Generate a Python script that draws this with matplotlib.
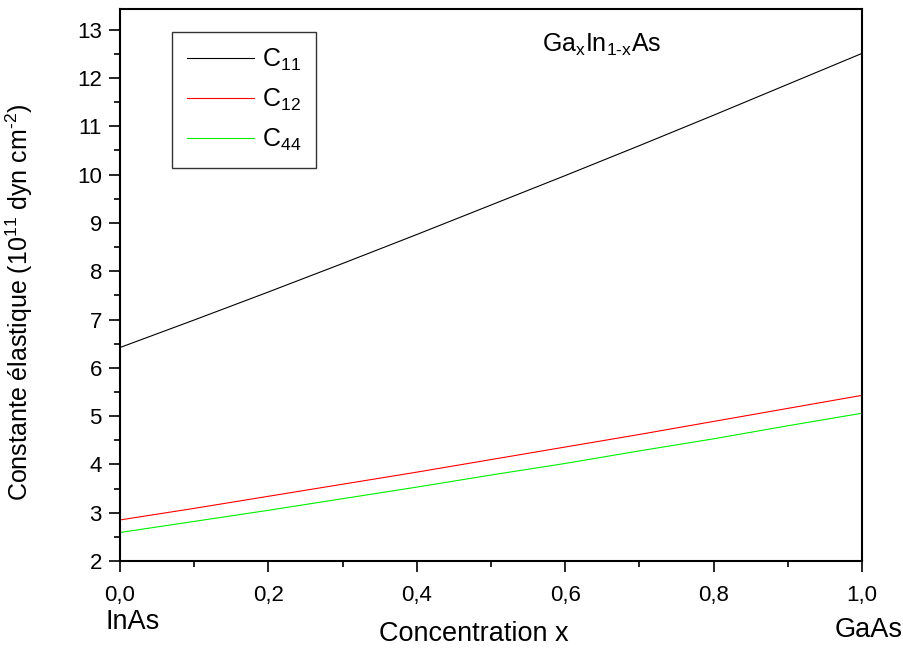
import numpy as np
import matplotlib.pyplot as plt
from matplotlib.ticker import MultipleLocator, FuncFormatter

plt.rcParams['font.family'] = ['Liberation Sans', 'DejaVu Sans']
plt.rcParams['mathtext.fontset'] = 'custom'
plt.rcParams['mathtext.rm'] = 'Liberation Sans'
plt.rcParams['mathtext.it'] = 'Liberation Sans'

# Concentration x and elastic constants
x = [0.0, 0.1, 0.2, 0.3, 0.4, 0.5, 0.6, 0.7, 0.8, 0.9, 1.0]
c11 = [6.42, 6.99, 7.57, 8.16, 8.76, 9.37, 9.98, 10.60, 11.23, 11.87, 12.51]
c12 = [2.85, 3.09, 3.34, 3.59, 3.84, 4.10, 4.36, 4.62, 4.89, 5.16, 5.43]
c44 = [2.59, 2.82, 3.05, 3.29, 3.53, 3.78, 4.02, 4.28, 4.53, 4.80, 5.06]

fig = plt.figure(figsize=(9.04, 6.5), dpi=100)
ax = fig.add_axes([0.1327, 0.1369, 0.8208, 0.8493])

ax.plot(x, c11, color='black', lw=0.8, label=r'C$_{11}$')
ax.plot(x, c12, color='#ff0000', lw=0.8, label=r'C$_{12}$')
ax.plot(x, c44, color='#00ee00', lw=0.8, label=r'C$_{44}$')

ax.set_xlim(0, 1)
ax.set_ylim(2, 13.43)
ax.xaxis.set_major_locator(MultipleLocator(0.2))
ax.xaxis.set_minor_locator(MultipleLocator(0.1))
ax.yaxis.set_major_locator(MultipleLocator(1))
ax.yaxis.set_minor_locator(MultipleLocator(0.5))
ax.xaxis.set_major_formatter(FuncFormatter(lambda v, p: f'{v:.1f}'.replace('.', ',')))
ax.tick_params(which='major', direction='out', length=8, width=1.2, labelsize=16)
ax.tick_params(axis='x', which='major', pad=9)
ax.tick_params(axis='y', which='major', pad=5)
ax.tick_params(which='minor', direction='out', length=4, width=1.2)
ax.tick_params(top=False, right=False)
for s in ax.spines.values():
    s.set_linewidth(1.5)

ax.set_ylabel(r'Constante élastique (10$^{11}$ dyn cm$^{\text{-}2}$)', fontsize=18)
ax.yaxis.set_label_coords(-0.114, 0.468)

leg = ax.legend(loc='upper left', bbox_to_anchor=(0.070, 0.958), borderaxespad=0,
                fontsize=18, frameon=True, fancybox=False, edgecolor='black',
                handlelength=2.7, borderpad=0.6, labelspacing=0.55, handletextpad=0.3)
leg.get_frame().set_linewidth(1.0)

ax.text((542 - 120) / 742, (561 - 45) / 552, r'$\mathregular{Ga_xIn_{1\text{-}x}As}$',
        transform=ax.transAxes, fontsize=18, ha='left', va='center')

fig.text(474 / 904, 1 - 634 / 650, 'Concentration x', fontsize=19.5, ha='center', va='center')
fig.text(133 / 904, 1 - 622 / 650, 'InAs', fontsize=19.5, ha='center', va='center')
fig.text(869 / 904, 1 - 630 / 650, 'GaAs', fontsize=19.5, ha='center', va='center')

plt.savefig('out.png', dpi=100)
